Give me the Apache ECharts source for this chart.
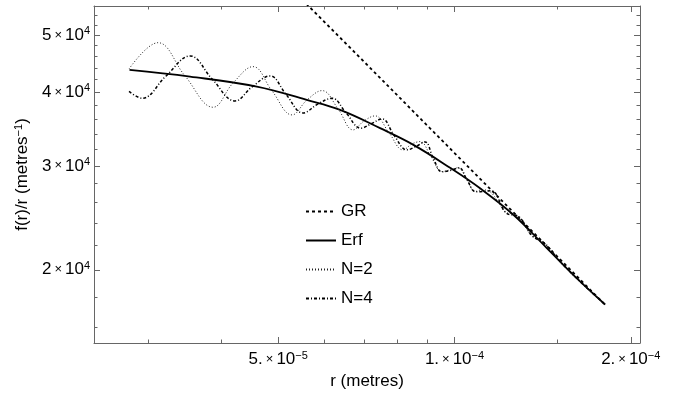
<!DOCTYPE html>
<html><head><meta charset="utf-8">
<script src="https://cdn.jsdelivr.net/npm/echarts@6/dist/echarts.min.js"></script>
<style>html,body{margin:0;padding:0;background:#fff}#c{width:683px;height:396px}</style>
</head><body><div id="c"></div>
<script>
// ---- data ----
const grR = [5.4e-5, 7.0e-5, 1.0e-4, 1.4e-4, 1.81e-4];
const grV = [5.84e4, 4.51e4, 3.155e4, 2.254e4, 1.743e4];

const erfR = [2.786e-5, 3.535e-5, 4.596e-5, 5.593e-5, 6.377e-5, 7.463e-5, 8.509e-5, 9.827e-5, 1.1057e-4, 1.2605e-4, 1.4376e-4, 1.6385e-4, 1.8077e-4];
const erfV = [4.363e4, 4.251e4, 4.088e4, 3.881e4, 3.733e4, 3.476e4, 3.257e4, 2.978e4, 2.749e4, 2.479e4, 2.177e4, 1.911e4, 1.747e4];

const n2R = [2.781e-5, 3.116e-5, 3.466e-5, 3.870e-5, 4.188e-5, 4.529e-5, 4.880e-5, 5.280e-5, 5.600e-5, 5.941e-5,
             6.327e-5, 6.711e-5, 7.007e-5, 7.317e-5, 7.731e-5, 8.169e-5, 8.463e-5, 8.734e-5, 9.121e-5, 9.523e-5,
             9.827e-5, 1.0141e-4, 1.0507e-4, 1.0842e-4, 1.1145e-4, 1.1500e-4, 1.187e-4, 1.2200e-4, 1.254e-4, 1.2842e-4,
             1.320e-4, 1.3515e-4, 1.389e-4, 1.4224e-4, 1.5145e-4, 1.6385e-4, 1.8077e-4];
const n2V = [4.380e4, 4.853e4, 4.262e4, 3.772e4, 4.148e4, 4.420e4, 4.020e4, 3.661e4, 3.881e4, 4.025e4,
             3.748e4, 3.453e4, 3.576e4, 3.647e4, 3.413e4, 3.194e4, 3.269e4, 3.299e4, 3.108e4, 2.935e4,
             2.954e4, 2.978e4, 2.841e4, 2.715e4, 2.733e4, 2.712e4, 2.608e4, 2.508e4, 2.488e4, 2.459e4,
             2.375e4, 2.288e4, 2.257e4, 2.214e4, 2.067e4, 1.911e4, 1.747e4];

const n4R = [2.781e-5, 2.927e-5, 3.217e-5, 3.536e-5, 3.855e-5, 4.219e-5, 4.511e-5, 4.842e-5, 5.156e-5, 5.513e-5,
             5.848e-5, 6.179e-5, 6.529e-5, 6.925e-5, 7.203e-5, 7.521e-5, 7.885e-5, 8.298e-5, 8.597e-5, 8.907e-5,
             9.193e-5, 9.523e-5, 9.866e-5, 1.0181e-4, 1.0507e-4, 1.0885e-4, 1.1546e-4, 1.2248e-4, 1.2893e-4, 1.3569e-4,
             1.4280e-4, 1.5145e-4, 1.6385e-4, 1.8077e-4];
const n4V = [4.012e4, 3.907e4, 4.262e4, 4.608e4, 4.213e4, 3.866e4, 4.083e4, 4.262e4, 3.966e4, 3.689e4,
             3.821e4, 3.907e4, 3.689e4, 3.476e4, 3.535e4, 3.604e4, 3.380e4, 3.194e4, 3.238e4, 3.295e4,
             3.096e4, 2.932e4, 2.949e4, 2.978e4, 2.841e4, 2.712e4, 2.722e4, 2.498e4, 2.459e4, 2.284e4,
             2.214e4, 2.067e4, 1.911e4, 1.747e4];

const seriesNames = ['GR', 'Erf', 'N=2', 'N=4'];

const xMin = 2.423e-5, xMax = 2.074e-4;
const yMin = 1.503e4, yMax = 5.60e4;

const xMajorTicks = [5e-5, 1e-4, 2e-4];
const xTickMant = ['5.', '1.', '2.'];
const xTickExp = ['\u22125', '\u22124', '\u22124'];
const xMinorTicks = [3e-5, 4e-5, 6e-5, 7e-5, 8e-5, 9e-5, 1.5e-4];

const yMajorTicks = [2e4, 3e4, 4e4, 5e4];
const yTickMant = ['2', '3', '4', '5'];
const yTickExp = ['4', '4', '4', '4'];
const yMinorTicks = [1.6e4, 1.8e4, 2.2e4, 2.4e4, 2.6e4, 2.8e4, 3.2e4, 3.4e4, 3.6e4, 3.8e4,
                     4.2e4, 4.4e4, 4.6e4, 4.8e4, 5.2e4, 5.4e4];

const xTitle = 'r (metres)';
const yTitleMain = 'f(r)/r (metres';
const yTitleExp = '\u22121';

// ---- chart ----
const FONT = 'Liberation Sans, Arial, Helvetica, sans-serif';
const AX = '#666';
const rich = {
  m: {fontSize: 17, fontFamily: FONT, color: '#000', lineHeight: 19},
  t: {fontSize: 13, fontFamily: FONT, color: '#000', lineHeight: 19, padding: [0, 3, 0, 3]},
  s: {fontSize: 11, fontFamily: FONT, color: '#000', verticalAlign: 'top', lineHeight: 7}
};
function idxOf(arr, v) {
  let best = 0, bd = Infinity;
  arr.forEach((a, i) => { const d = Math.abs(Math.log(a) - Math.log(v)); if (d < bd) { bd = d; best = i; } });
  return best;
}
function zip(a, b) { return a.map((v, i) => [v, b[i]]); }

function xAxis(pos, ticks, len, withLabel, lineShow) {
  return {
    type: 'log', min: xMin, max: xMax, position: pos,
    axisLine: {show: lineShow, onZero: false, lineStyle: {color: AX, width: 1}},
    axisTick: {show: true, inside: true, length: len, customValues: ticks, lineStyle: {color: AX, width: 1}},
    axisLabel: withLabel ? {
      show: true, customValues: ticks, margin: 7,
      formatter: v => { const i = idxOf(xMajorTicks, v); return '{m|' + xTickMant[i] + '}{t|\u00d7}{m|10}{s|' + xTickExp[i] + '}'; },
      rich: rich
    } : {show: false},
    splitLine: {show: false}, minorTick: {show: false},
    name: withLabel ? xTitle : '', nameLocation: 'middle', nameGap: 23,
    nameTextStyle: {fontSize: 17, fontFamily: FONT, color: '#000'}
  };
}
function yAxis(pos, ticks, len, withLabel, lineShow) {
  return {
    type: 'log', min: yMin, max: yMax, position: pos,
    axisLine: {show: lineShow, onZero: false, lineStyle: {color: AX, width: 1}},
    axisTick: {show: true, inside: true, length: len, customValues: ticks, lineStyle: {color: AX, width: 1}},
    axisLabel: withLabel ? {
      show: true, customValues: ticks, margin: 4,
      formatter: v => { const i = idxOf(yMajorTicks, v); return '{m|' + yTickMant[i] + '}{t|\u00d7}{m|10}{s|' + yTickExp[i] + '}'; },
      rich: rich
    } : {show: false},
    splitLine: {show: false}, minorTick: {show: false},
    name: withLabel ? '{m|' + yTitleMain + '}{s|' + yTitleExp + '}{m|)}' : '',
    nameLocation: 'middle', nameGap: 56, nameRotate: 90,
    nameTextStyle: {fontSize: 17, fontFamily: FONT, color: '#000', rich: rich}
  };
}

const chart = echarts.init(document.getElementById('c'), null, {renderer: 'canvas'});
chart.setOption({
  animation: false,
  backgroundColor: '#fff',
  grid: {left: 94, top: 6, width: 546, height: 337, containLabel: false},
  xAxis: [
    xAxis('bottom', xMajorTicks, 6, true, true),
    xAxis('bottom', xMinorTicks, 3.5, false, false),
    xAxis('top', xMajorTicks, 6, false, true),
    xAxis('top', xMinorTicks, 3.5, false, false)
  ],
  yAxis: [
    yAxis('left', yMajorTicks, 6, true, true),
    yAxis('left', yMinorTicks, 3.5, false, false),
    yAxis('right', yMajorTicks, 6, false, true),
    yAxis('right', yMinorTicks, 3.5, false, false)
  ],
  legend: {
    orient: 'vertical', left: 305, top: 203, padding: 0, itemGap: 12, itemWidth: 30, itemHeight: 14,
    data: seriesNames,
    itemStyle: {opacity: 0},
    textStyle: {fontSize: 17, fontFamily: FONT, color: '#000'},
    inactiveColor: '#000'
  },
  series: [
    {name: seriesNames[0], type: 'line', data: zip(grR, grV), showSymbol: false, symbol: 'none', clip: true,
     lineStyle: {color: '#000', width: 1.8, type: [3, 3]}, itemStyle: {color: '#000'}},
    {name: seriesNames[1], type: 'line', data: zip(erfR, erfV), showSymbol: false, symbol: 'none', smooth: 0.4,
     lineStyle: {color: '#000', width: 1.8, type: 'solid'}, itemStyle: {color: '#000'}},
    {name: seriesNames[2], type: 'line', data: zip(n2R, n2V), showSymbol: false, symbol: 'none', smooth: 0.4,
     lineStyle: {color: '#222', width: 1, type: [1, 2]}, itemStyle: {color: '#222'}},
    {name: seriesNames[3], type: 'line', data: zip(n4R, n4V), showSymbol: false, symbol: 'none', smooth: 0.4,
     lineStyle: {color: '#000', width: 1.5, type: [3, 2, 1, 2]}, itemStyle: {color: '#000'}}
  ]
});
</script></body></html>
